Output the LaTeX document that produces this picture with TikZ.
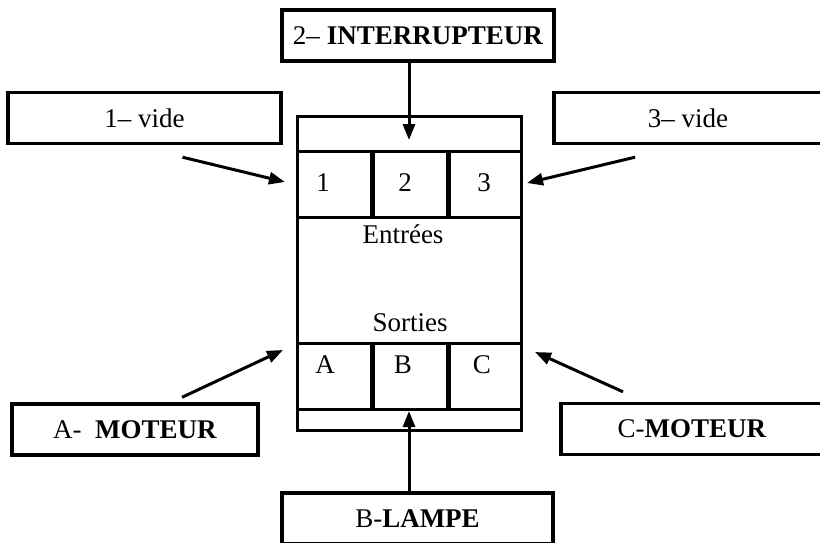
\documentclass[tikz,border=0pt]{standalone}
\usepackage{fontspec}
\setmainfont{Liberation Serif}
\usetikzlibrary{arrows.meta}
\begin{document}
\begin{tikzpicture}[x=0.5pt, y=-0.5pt, font=\fontsize{13.5}{16}\selectfont,
  labelbox/.style={draw, line width=1.7pt, minimum height=25.5pt, inner sep=0pt},
  arr/.style={line width=1.5pt, -{Triangle[length=8pt,width=6pt]}}]
  \clip (0,0) rectangle (820,542);
  % outer boxes
  \node[labelbox, minimum width=136pt] (inter) at (418,35.5) {2– \textbf{INTERRUPTEUR}};
  \node[labelbox, minimum width=136.5pt] (vide1) at (144.5,118) {1– vide};
  \node[labelbox, minimum width=134pt] (vide3) at (688,118) {3– vide};
  \node[labelbox, minimum width=123pt] (moteurA) at (135,429.5) {A-~~\textbf{MOTEUR}};
  \node[labelbox, minimum width=131pt] (moteurC) at (692,429) {C-\textbf{MOTEUR}};
  \node[labelbox, minimum width=135.5pt] (lampe) at (417.5,518.5) {B-\textbf{LAMPE}};
  % the module
  \draw[line width=1.5pt] (297,116) rectangle (521,430);
  \draw[line width=1.5pt] (297,151) -- (521,151) (297,217) -- (521,217)
    (297,343) -- (521,343) (297,409) -- (521,409);
  \foreach \x in {372,448}
    \draw[line width=2.5pt] (\x,151) -- (\x,217) (\x,343) -- (\x,409);
  \node[anchor=base] (e1) at (323,191) {1};
  \node[anchor=base] (e2) at (405,191) {2};
  \node[anchor=base] (e3) at (484,191) {3};
  \node[anchor=base] (entrees) at (403,243) {Entrées};
  \node[anchor=base] (sorties) at (410,331) {Sorties};
  \node[anchor=base] (sA) at (325,373) {A};
  \node[anchor=base] (sB) at (403,373) {B};
  \node[anchor=base] (sC) at (482,373) {C};
  % arrows
  \coordinate (t1) at (285,182);
  \coordinate (t2) at (409,140);
  \coordinate (t3) at (527,183);
  \coordinate (tA) at (283,350);
  \coordinate (tB) at (409,411);
  \coordinate (tC) at (535,352);
  \draw[arr] (inter.south -| t2) -- (t2);
  \draw[arr] ([shift={(38,12)}]vide1.south) -- (t1);
  \draw[arr] ([shift={(-53,12)}]vide3.south) -- (t3);
  \draw[arr] ([shift={(47,-5)}]moteurA.north) -- (tA);
  \draw[arr] ([shift={(-69,-10)}]moteurC.north) -- (tC);
  \draw[arr] (lampe.north -| tB) -- (tB);
\end{tikzpicture}
\end{document}
